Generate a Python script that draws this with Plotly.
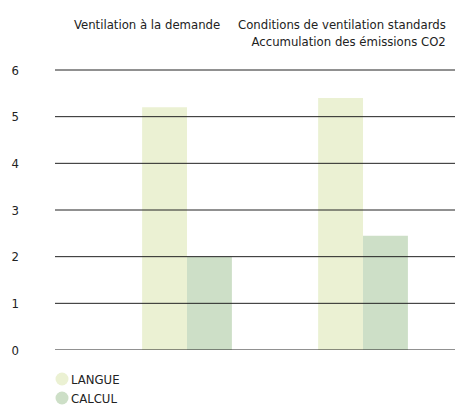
import plotly.graph_objects as go

categories = ["Ventilation à la demande", "Conditions de ventilation standards<br>Accumulation des émissions CO2"]
series_names = ["LANGUE", "CALCUL"]
langue = [5.2, 5.4]
calcul = [2.0, 2.45]
y_ticks = [0, 1, 2, 3, 4, 5, 6]

FONT = "DejaVu Sans Condensed"
colors = ["#EBF1D3", "#CDDFC7"]

W, H = 463, 405
L, R, T, B = 47, 8, 59, 63
plot_w = W - L - R
plot_h = H - T - B

xpos = [0, 1]
fig = go.Figure()
for name, vals, col in zip(series_names, [langue, calcul], colors):
    fig.add_trace(go.Bar(x=xpos, y=vals, name=name, marker=dict(color=col, line=dict(width=0)),
                         showlegend=False))

# gridlines drawn above the bars
for v in y_ticks:
    fig.add_shape(type="line", xref="paper", yref="y", x0=0, x1=1, y0=v, y1=v,
                  line=dict(color="#222", width=1), layer="above")

# category labels at top
shifts = [35, 85]
for i, (c, s) in enumerate(zip(categories, shifts)):
    fig.add_annotation(x=xpos[i], y=1, xref="x", yref="paper", yanchor="top", yshift=52,
                       xanchor="right", xshift=s, text=c, showarrow=False, align="right",
                       font=dict(family=FONT, size=13, color="#222"))

# custom legend with circles
for k, (name, col) in enumerate(zip(series_names, colors)):
    cy = 371 + 19 * k
    py = (H - B - cy) / plot_h
    px = (54 - L) / plot_w
    fig.add_shape(type="circle", xref="paper", yref="paper", xsizemode="pixel", ysizemode="pixel",
                  xanchor=px, yanchor=py, x0=-6.5, x1=6.5, y0=-6.5, y1=6.5,
                  fillcolor=col, line=dict(width=0))
    fig.add_annotation(x=px, y=py, xref="paper", yref="paper", xanchor="left", yanchor="middle",
                       xshift=7, text=name, showarrow=False,
                       font=dict(family=FONT, size=13, color="#222"))

fig.update_layout(
    width=W, height=H,
    margin=dict(l=L, r=R, t=T, b=B, autoexpand=False),
    paper_bgcolor="white", plot_bgcolor="white",
    barmode="group", bargap=0.49, bargroupgap=0,
    font=dict(family=FONT, size=13, color="#222"),
    showlegend=False,
    xaxis=dict(range=[-0.75, 1.568], showticklabels=False, showgrid=False, zeroline=False,
               showline=False, ticks=""),
    yaxis=dict(range=[0, 6.0643], tickvals=y_ticks, showgrid=False,
               zeroline=False, showline=False,
               ticks="", ticklabelstandoff=35,
               tickfont=dict(family=FONT, size=13, color="#222")),
)
fig.write_html("out.html")
